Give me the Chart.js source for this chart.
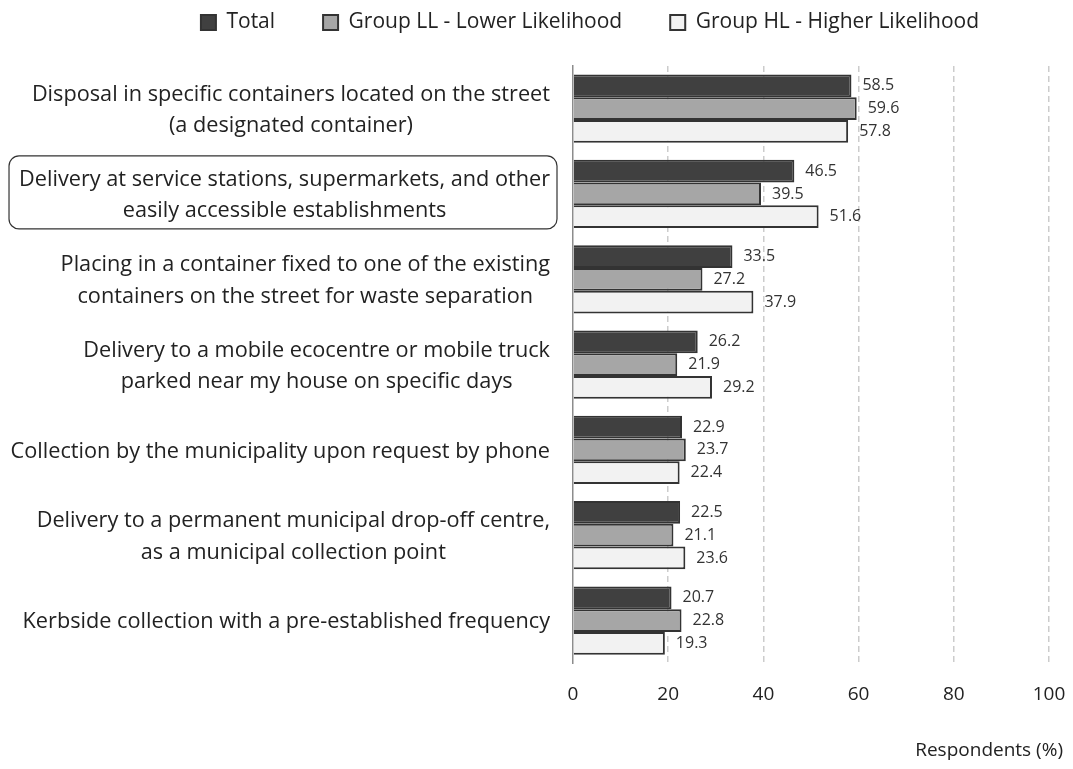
<!DOCTYPE html>
<html>
<head>
<meta charset="utf-8">
<script src="https://cdn.jsdelivr.net/npm/chart.js@4"></script>
<style>html, body { margin: 0; padding: 0; background: #fff; }</style>
</head>
<body>
<canvas id="chart" width="1073" height="769"></canvas>
<script>
const categories = [
    ['Disposal in specific containers located on the street', '(a designated container)'],
    ['Delivery at service stations, supermarkets, and other', 'easily accessible establishments'],
    ['Placing in a container fixed to one of the existing', 'containers on the street for waste separation'],
    ['Delivery to a mobile ecocentre or mobile truck', 'parked near my house on specific days'],
    ['Collection by the municipality upon request by phone'],
    ['Delivery to a permanent municipal drop-off centre,', 'as a municipal collection point'],
    ['Kerbside collection with a pre-established frequency']
];
const seriesNames = ['Total', 'Group LL - Lower Likelihood', 'Group HL - Higher Likelihood'];
const totalValues = [58.5, 46.5, 33.5, 26.2, 22.9, 22.5, 20.7];
const llValues = [59.6, 39.5, 27.2, 21.9, 23.7, 21.1, 22.8];
const hlValues = [57.8, 51.6, 37.9, 29.2, 22.4, 23.6, 19.3];
const xTicks = [0, 20, 40, 60, 80, 100];
const axisTitle = 'Respondents (%)';
const highlightIndex = 1;

const FONT = '"Open Sans"';

// category labels are drawn by hand: each block right aligned, lines centred inside it
const labelsPlugin = {
    id: 'labelsPlugin',
    beforeInit(chart) {
        const fit = chart.legend.fit;
        chart.legend.fit = function () {
            fit.call(this);
            this.height = 102;
        };
    },
    afterDraw(chart) {
        const ctx = chart.ctx;
        const yScale = chart.scales.y;
        const right = chart.chartArea.left - 23;
        const lh = 31.5;
        ctx.save();
        ctx.font = `21.7px ${FONT}`;
        ctx.fillStyle = '#222';
        ctx.textAlign = 'center';
        ctx.textBaseline = 'middle';
        categories.forEach((lines, i) => {
            const cy = yScale.getPixelForValue(i);
            const w = Math.max(...lines.map(l => ctx.measureText(l).width));
            const cx = right - w / 2;
            const y0 = cy - (lines.length - 1) * lh / 2 + 1.5;
            lines.forEach((l, j) => ctx.fillText(l, cx, y0 + j * lh));
            if (i === highlightIndex) {
                ctx.beginPath();
                ctx.strokeStyle = '#333';
                ctx.lineWidth = 1.2;
                ctx.roundRect(right - w - 10, cy - 38, w + 17, 73, 10);
                ctx.stroke();
            }
        });

        ctx.font = `16px ${FONT}`;
        ctx.textAlign = 'left';
        ctx.fillStyle = '#333';
        chart.data.datasets.forEach((ds, di) => {
            chart.getDatasetMeta(di).data.forEach((bar, i) => {
                ctx.fillText(ds.data[i].toFixed(1), bar.x + 11, bar.y);
            });
        });

        ctx.font = `19px ${FONT}`;
        ctx.textAlign = 'right';
        ctx.fillStyle = '#222';
        ctx.fillText(axisTitle, chart.chartArea.right + 14, 751);
        ctx.restore();
    }
};

new Chart(document.getElementById('chart'), {
    type: 'bar',
    data: {
        labels: categories,
        datasets: [
            {
                label: seriesNames[0],
                data: totalValues,
                backgroundColor: '#404040',
                borderColor: '#333333',
                borderWidth: 2
            },
            {
                label: seriesNames[1],
                data: llValues,
                backgroundColor: '#a6a6a6',
                borderColor: '#333333',
                borderWidth: 2
            },
            {
                label: seriesNames[2],
                data: hlValues,
                backgroundColor: '#f2f2f2',
                borderColor: '#333333',
                borderWidth: 2
            }
        ]
    },
    options: {
        responsive: false,
        animation: false,
        indexAxis: 'y',
        categoryPercentage: 0.8,
        barPercentage: 1,
        layout: {
            padding: { top: -36, left: 131, right: 24, bottom: 43 }
        },
        plugins: {
            legend: {
                position: 'top',
                labels: {
                    boxWidth: 15,
                    boxHeight: 15,
                    padding: 48,
                    color: '#222',
                    font: { family: FONT, size: 21 }
                }
            },
            tooltip: { enabled: false }
        },
        scales: {
            x: {
                min: 0,
                max: 100,
                afterBuildTicks: scale => {
                    scale.ticks = xTicks.map(v => ({ value: v }));
                },
                afterFit: scale => { scale.paddingRight = 0; },
                grid: {
                    drawTicks: false,
                    color: ctx => ctx.tick && ctx.tick.value === 0 ? 'rgba(0,0,0,0)' : '#cccccc',
                    lineWidth: 1.5
                },
                border: { display: false, dash: [6, 4] },
                ticks: {
                    padding: 20,
                    color: '#222',
                    font: { family: FONT, size: 19 }
                }
            },
            y: {
                afterFit: scale => { scale.width = 442; },
                grid: { display: false },
                border: { display: true, color: '#8c8c8c', width: 1.5 },
                ticks: { display: false }
            }
        }
    },
    plugins: [labelsPlugin]
});
</script>
</body>
</html>
